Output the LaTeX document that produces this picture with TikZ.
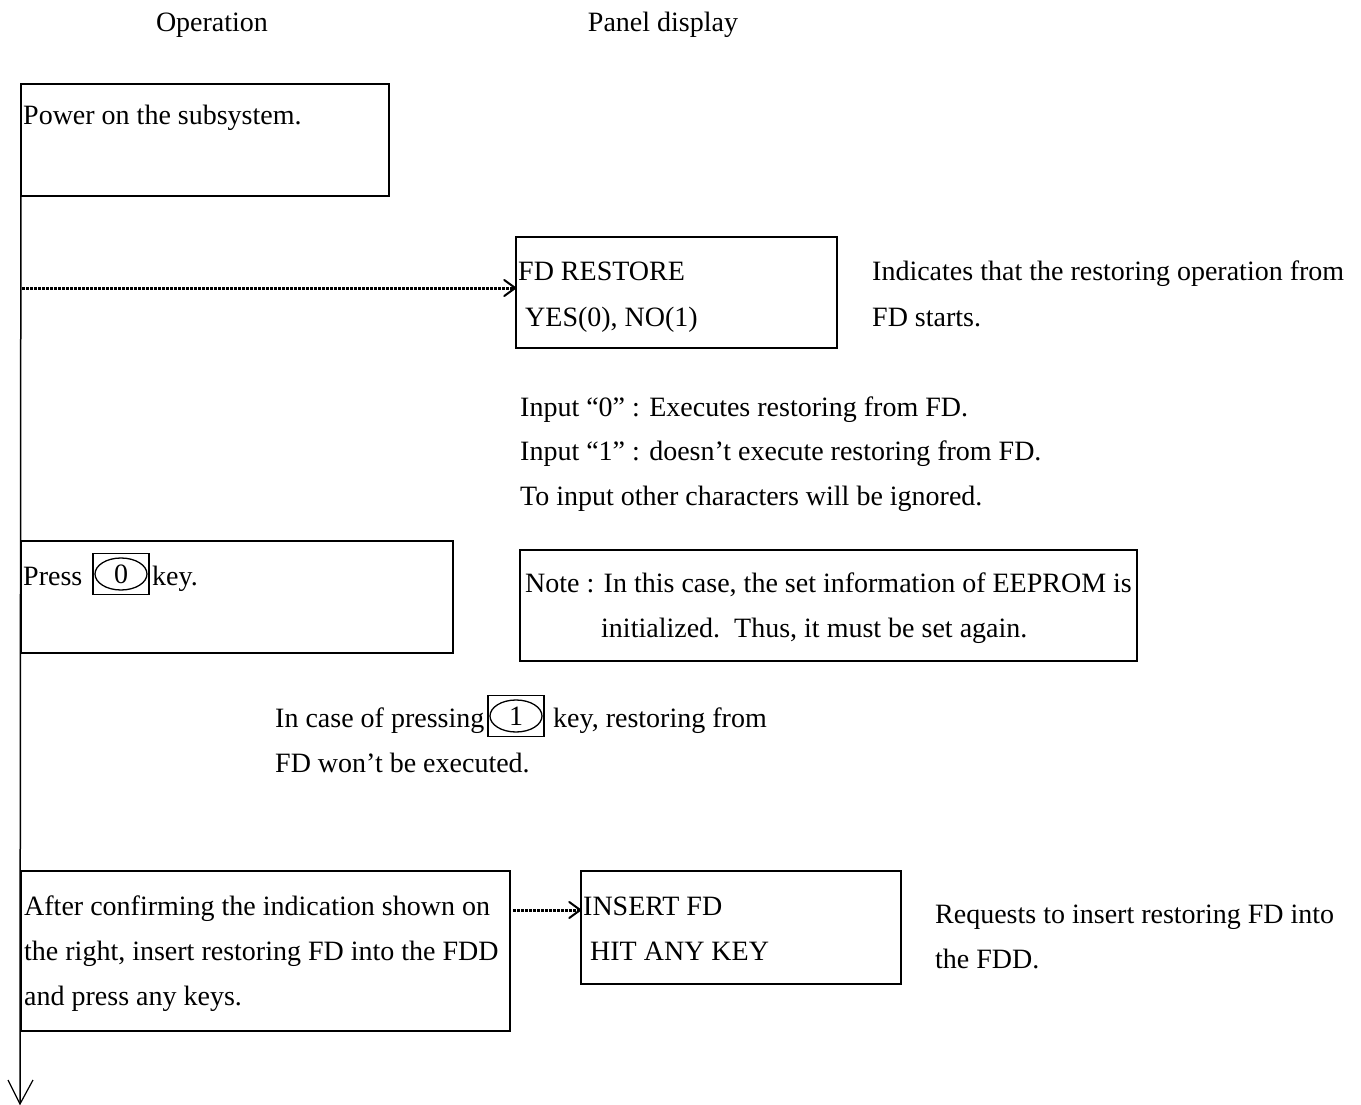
\documentclass[tikz,border=0pt]{standalone}
\usepackage{fontspec}
\setmainfont{Liberation Serif}
\usetikzlibrary{arrows.meta}
\begin{document}
\begin{tikzpicture}[x=1pt,y=-1pt,
  txt/.style={anchor=base west,inner sep=0pt,font=\fontsize{28}{34}\selectfont},
  hdr/.style={anchor=base,inner sep=0pt,font=\fontsize{28}{34}\selectfont},
  box/.style={draw,line width=1.5pt},
  keybox/.style={draw,line width=1.3pt,minimum width=56pt,minimum height=41pt,inner sep=0pt},
  keyoval/.style={line width=1.3pt},
  flow/.style={line width=1.5pt},
  dots/.style={line width=3pt,dash pattern=on 2.5pt off 1.5pt},
  barb/.style={line width=2pt,line cap=round,line join=miter}]
\useasboundingbox (0,0) rectangle (1361,1105);

% column headers
\node[hdr] (hop) at (212,32) {Operation};
\node[hdr] (hpd) at (663,32) {Panel display};

% operation boxes
\draw[box] (21,84) rectangle (389,196);
\coordinate (top) at (21,84);
\node[txt] (t1) at (23,125) {Power on the subsystem.};

\draw[box] (21,541) rectangle (453,653);
\node[txt] (t2a) at (23,585) {Press};
\node[keybox] (k0) at (121,574) {};
\draw[keyoval] (k0.center) ellipse (26pt and 16pt);
\node[txt] (t2b) at (152,585) {key.};

\draw[box] (21,871) rectangle (510,1031);
\node[txt] (t3a) at (24,915) {After confirming the indication shown on};
\node[txt] (t3b) at (24,960) {the right, insert restoring FD into the FDD};
\node[txt] (t3c) at (24,1005) {and press any keys.};

% main flow line with open arrow head
\coordinate (bot) at (20,1104);
\draw[flow] (top) -- (bot);
\draw[line width=1.2pt] (8,1080) -- (bot) -- (33,1080);

% panel displays
\node[box,minimum width=321pt,minimum height=111pt,inner sep=0pt] (pd1) at (676.5,292.5) {};
\node[txt] (p1a) at (518,280) {FD RESTORE};
\node[txt] (p1b) at (518,326) {\ YES(0), NO(1)};

\node[box,minimum width=320pt,minimum height=113pt,inner sep=0pt] (pd2) at (741,927.5) {};
\node[txt] (p2a) at (583,915) {INSERT FD};
\node[txt] (p2b) at (583,960) {\ HIT ANY KEY};

% dotted connectors to the displays, with open barbs
\coordinate (c1) at (22,288);
\coordinate (e1) at (pd1.west |- c1);
\draw[dots] (c1) -- ([xshift=-2pt]e1);
\draw[barb] ([xshift=-11pt,yshift=-8pt]e1) -- (e1) -- ([xshift=-11pt,yshift=8pt]e1);
\coordinate (c2) at (513,910);
\coordinate (e2) at (pd2.west |- c2);
\draw[dots] (c2) -- ([xshift=-2pt]e2);
\draw[barb] ([xshift=-11pt,yshift=-8pt]e2) -- (e2) -- ([xshift=-11pt,yshift=8pt]e2);

% remarks
\node[txt] (r1a) at (872,280) {Indicates that the restoring operation from};
\node[txt] (r1b) at (872,326) {FD starts.};

\node[txt] (i1) at (520,416) {Input “0” : Executes restoring from FD.};
\node[txt] (i2) at (520,460) {Input “1” : doesn’t execute restoring from FD.};
\node[txt] (i3) at (520,505) {To input other characters will be ignored.};

\draw[box] (520,550) rectangle (1137,661);
\node[txt] (n1) at (525,592) {Note : In this case, the set information of EEPROM is};
\node[txt] (n2) at (601,637) {initialized.\ \ Thus, it must be set again.};

\node[txt] (c1a) at (275,727) {In case of pressing};
\node[keybox] (k1) at (516,716) {};
\draw[keyoval] (k1.center) ellipse (26pt and 16pt);
\node[txt] (c1b) at (553,727) {key, restoring from};
\node[txt] (c1c) at (275,772) {FD won’t be executed.};

\node[txt] (r2a) at (935,923) {Requests to insert restoring FD into};
\node[txt] (r2b) at (935,968) {the FDD.};

% key digits
\node[txt,anchor=base] (d0) at (k0.center) [yshift=-9.5pt] {0};
\node[txt,anchor=base] (d1) at (k1.center) [yshift=-9.5pt] {1};
\end{tikzpicture}
\end{document}
